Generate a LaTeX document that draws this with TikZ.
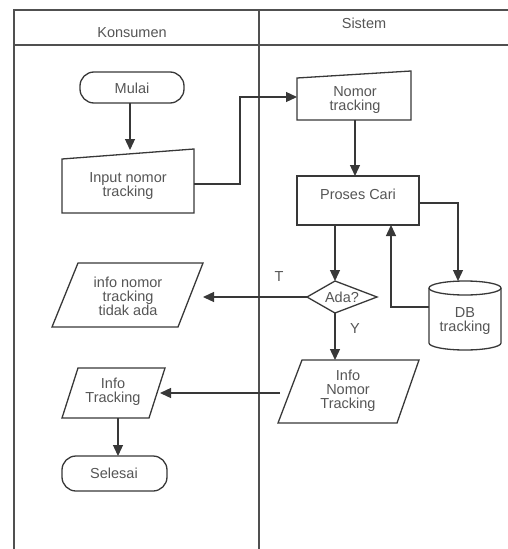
\documentclass[tikz,border=0pt]{standalone}
\usepackage{fontspec}
\setmainfont{Liberation Sans}
\usetikzlibrary{arrows.meta}
\definecolor{ln}{HTML}{383838}
\definecolor{lanecol}{HTML}{505050}
\definecolor{tx}{HTML}{555555}
\begin{document}
\begin{tikzpicture}[x=1pt,y=-1pt,
  shapeline/.style={draw=ln, line width=1.3pt, line join=miter},
  lane/.style={draw=lanecol, line width=1.7pt},
  flow/.style={draw=ln, line width=1.3pt, -{Triangle[length=11pt,width=10pt]}},
  link/.style={draw=ln, line width=1.3pt},
  txt/.style={text=tx, font=\fontsize{14.5}{14}\selectfont, align=center, inner sep=0pt},
]
\useasboundingbox (0,0) rectangle (508,549);

% swimlanes
\draw[lane] (14,549) -- (14,10) -- (508,10);
\draw[lane] (14,45) -- (508,45);
\draw[lane] (259,10) -- (259,549);
\node[txt] (hk) at (132,33) {Konsumen};
\node[txt] (hs) at (364,23) {Sistem};

% Konsumen: start
\draw[shapeline, rounded corners=14pt] (80,72) rectangle (184,103);
\node[txt] (mulai) at (132,88) {Mulai};
\coordinate (mulaiS) at (130,103);

% manual input
\draw[shapeline] (62,159) -- (194,149) -- (194,213) -- (62,213) -- cycle;
\node[txt] (input) at (128,186) {Input nomor\\tracking};
\coordinate (inputN) at (130,150);
\coordinate (inputE) at (194,184);

% Sistem: received number
\draw[shapeline] (297,78) -- (411,71) -- (411,120) -- (297,120) -- cycle;
\node[txt] (nomor) at (355,100) {Nomor\\tracking};
\coordinate (nomorW) at (297,97);
\coordinate (nomorS) at (355,120);

% search process
\draw[shapeline] (297,176) rectangle (419,225);
\node[txt] (proses) at (358,194) {Proses Cari};
\coordinate (prosesN) at (355,176);
\coordinate (prosesE) at (419,203);
\coordinate (prosesS) at (335,225);
\coordinate (prosesSR) at (391,225);

% database
\draw[shapeline] (429,288) -- (429,343) arc[start angle=180, end angle=360, x radius=36, y radius=-7] -- (501,288);
\draw[shapeline] (465,288) ellipse[x radius=36, y radius=7];
\node[txt] (db) at (465,321) {DB\\tracking};
\coordinate (dbN) at (458,281);
\coordinate (dbW) at (429,307);

% decision
\draw[shapeline] (335,281) -- (377,297) -- (335,313) -- (307,297) -- cycle;
\node[txt] (ada) at (342,297) {Ada?};
\coordinate (adaN) at (335,281);
\coordinate (adaW) at (307,297);
\coordinate (adaS) at (335,313);
\node[txt] (lblT) at (279,277) {T};
\node[txt] (lblY) at (355,329) {Y};

% output: not found
\draw[shapeline] (78,263) -- (203,263) -- (178,327) -- (52,327) -- cycle;
\node[txt] (tidak) at (128,296) {info nomor\\tracking\\tidak ada};
\coordinate (tidakE) at (203,297);

% output: tracking info
\draw[shapeline] (302,360) -- (419,360) -- (397,423) -- (278,423) -- cycle;
\node[txt] (infonomor) at (348,391) {Info\\Nomor\\Tracking};
\coordinate (infonomorN) at (335,360);
\coordinate (infonomorW) at (280,393);

% Konsumen: display info
\draw[shapeline] (78,368) -- (165,368) -- (149,418) -- (62,418) -- cycle;
\node[txt] (info) at (113,392) {Info\\Tracking};
\coordinate (infoE) at (160,393);
\coordinate (infoS) at (118,418);

% end
\draw[shapeline, rounded corners=14pt] (62,456) rectangle (167,491);
\node[txt] (selesai) at (114,473) {Selesai};
\coordinate (selesaiN) at (118,456);

% connectors
\draw[flow] (mulaiS) -- (inputN);
\draw[flow] (inputE) -| (240,97) -- (nomorW);
\draw[flow] (nomorS) -- (prosesN);
\draw[flow] (prosesE) -| (dbN);
\draw[flow] (dbW) -| (prosesSR);
\draw[flow] (prosesS) -- (adaN);
\draw[flow] (adaW) -- (tidakE);
\draw[flow] (adaS) -- (infonomorN);
\draw[flow] (infonomorW) -- (infoE);
\draw[flow] (infoS) -- (selesaiN);
\end{tikzpicture}
\end{document}
